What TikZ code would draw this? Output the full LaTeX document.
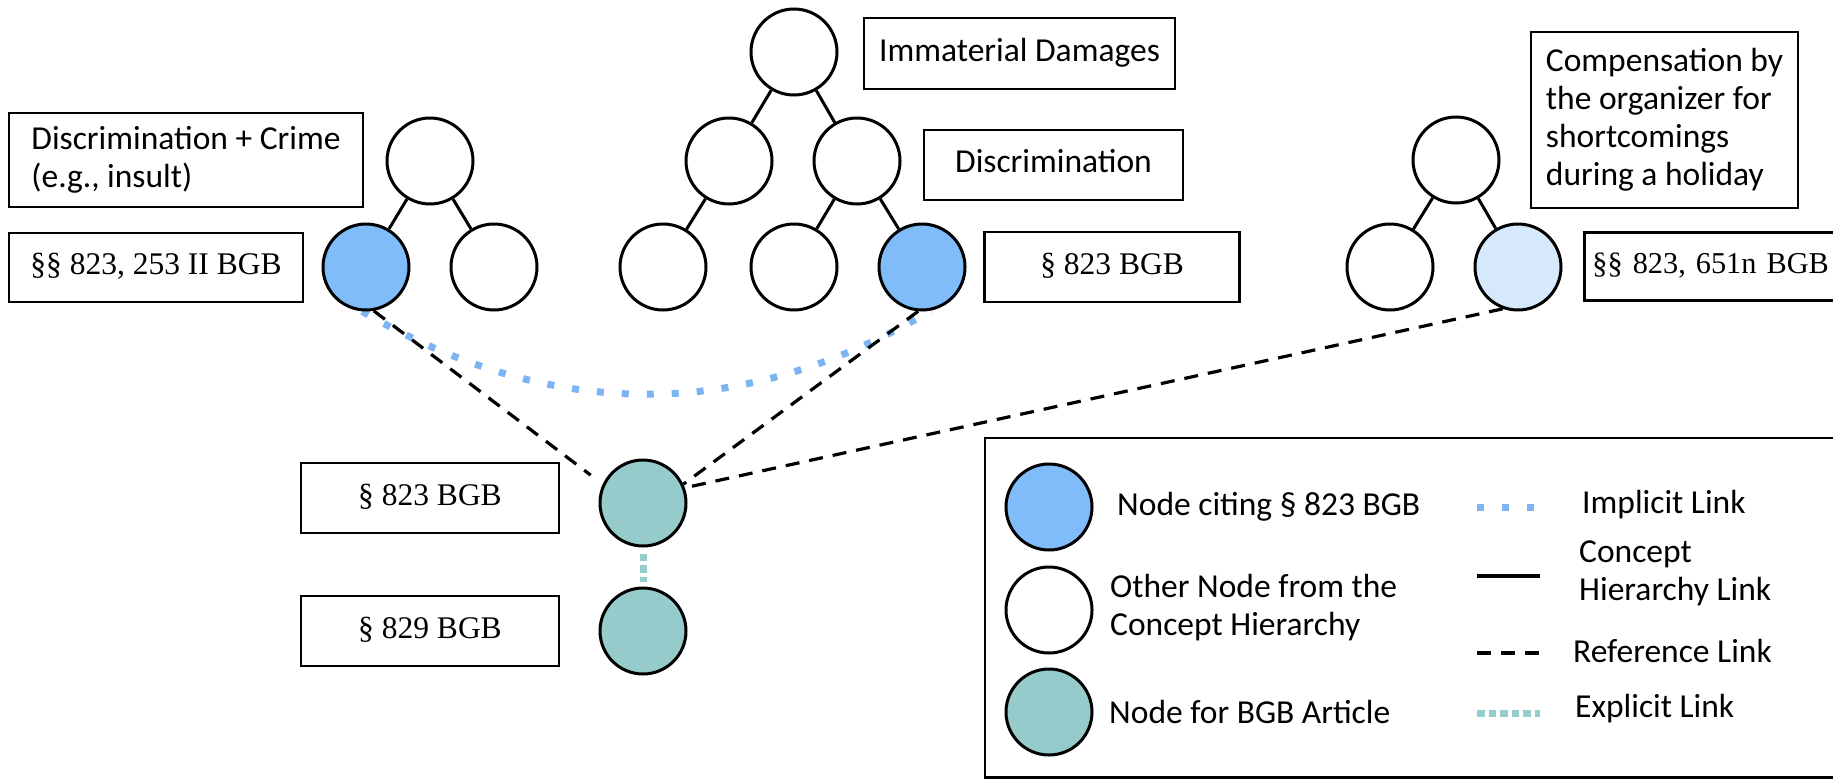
\documentclass[tikz,border=0pt]{standalone}
\usepackage{fontspec}
\setmainfont{Carlito}
\newfontfamily\serf{Liberation Serif}
\usetikzlibrary{backgrounds}
\definecolor{citeblue}{RGB}{128,187,250}
\definecolor{paleblue}{RGB}{214,232,251}
\definecolor{bgbteal}{RGB}{150,203,203}
\definecolor{impblue}{RGB}{125,180,242}
\definecolor{expteal}{RGB}{150,205,205}
\newcommand\sflab{\fontsize{33.5}{38}\selectfont}
\newcommand\serlab{\serf\fontsize{31.5}{36}\selectfont}
\newcommand\serlabsmall{\serf\fontsize{30.3}{36}\selectfont}
\tikzset{
  cnode/.style={circle, draw, line width=3pt, minimum size=86pt, inner sep=0pt, fill=white},
  citenode/.style={cnode, fill=citeblue},
  palenode/.style={cnode, fill=paleblue},
  artnode/.style={cnode, fill=bgbteal},
  lblbox/.style={draw, line width=2.8pt, rectangle, inner sep=0pt},
  sfbox/.style={lblbox, font=\sflab},
  serbox/.style={lblbox, font=\serlab},
  legtext/.style={anchor=base west, inner sep=0pt, font=\sflab},
  treelink/.style={line width=3pt},
  reflink/.style={line width=3.2pt, dash pattern=on 14pt off 10pt},
  implink/.style={line width=7pt, impblue, dash pattern=on 7pt off 18pt},
  explink/.style={line width=7pt, expteal, dash pattern=on 7.5pt off 4pt},
}
\begin{document}
\begin{tikzpicture}[x=1pt,y=-1pt]
\useasboundingbox (0,0) rectangle (1833,779);

% label boxes
\node[sfbox, minimum width=354pt, minimum height=94pt, align=left] (lbDC) at (186,160) {Discrimination + Crime\\(e.g., insult)};
\node[serbox, minimum width=294pt, minimum height=69pt] (lbS253) at (156,267.5) {\strut§§ 823, 253 II BGB};
\node[sfbox, minimum width=311pt, minimum height=71pt] (lbIM) at (1019.5,53.5) {\strut Immaterial Damages};
\node[sfbox, minimum width=259pt, minimum height=70pt] (lbDI) at (1053.5,165) {\strut Discrimination};
\node[serbox, minimum width=255pt, minimum height=70pt] (lbS823r) at (1112,267) {\strut§ 823 BGB};
\node[sfbox, minimum width=267pt, minimum height=176pt, align=left] (lbCO) at (1664.5,120) {Compensation by\\the organizer for\\shortcomings\\during a holiday};
\node[serbox, font=\serlabsmall, anchor=west, minimum height=68pt, text width=250pt, inner xsep=8pt, align=left] (lbS651) at (1583,266.5) {\strut§§ 823, 651n BGB};
\node[serbox, minimum width=258pt, minimum height=70pt] (lbS823) at (430,498) {\strut§ 823 BGB};
\node[serbox, minimum width=258pt, minimum height=70pt] (lbS829) at (430,631) {\strut§ 829 BGB};

% left tree
\node[cnode] (T1) at (430,161) {};
\node[citenode] (B1) at (366,267) {};
\node[cnode] (B2) at (494,267) {};
% middle tree
\node[cnode] (M0) at (794,52) {};
\node[cnode] (M1) at (729,161) {};
\node[cnode] (M2) at (857,161) {};
\node[cnode] (M3) at (663,267) {};
\node[cnode] (M4) at (794,267) {};
\node[citenode] (M5) at (922,267) {};
% right tree
\node[cnode] (R0) at (1456,160) {};
\node[cnode] (R1) at (1390,267) {};
\node[palenode] (R2) at (1518,267) {};
% BGB article nodes
\node[artnode] (A1) at (643,503) {};
\node[artnode] (A2) at (643,631) {};

\begin{pgfonlayer}{background}
\draw[treelink] (T1) -- (B1);
\draw[treelink] (T1) -- (B2);
\draw[treelink] (M0) -- (M1);
\draw[treelink] (M0) -- (M2);
\draw[treelink] (M1) -- (M3);
\draw[treelink] (M2) -- (M4);
\draw[treelink] (M2) -- (M5);
\draw[treelink] (R0) -- (R1);
\draw[treelink] (R0) -- (R2);
\draw[implink] (B1.-95) .. controls (552,422) and (742,422) .. (M5.-78);
\draw[reflink, shorten >=15pt] (B1.-80) -- (A1.155);
\draw[reflink] (M5.-95) -- (A1.25);
\draw[reflink] (R2.-110) -- (A1.20);
\draw[explink, shorten <=6pt, shorten >=5pt] (A1) -- (A2);
\end{pgfonlayer}

% legend
\draw[line width=2.8pt] (985,438) rectangle (1860,777.5);
\node[citenode] (L1) at (1049,507) {};
\node[cnode] (L2) at (1049,610) {};
\node[artnode] (L3) at (1049,712) {};
\node[legtext] (t1) at (1117,515) {Node citing § 823 BGB};
\node[legtext] (t2a) at (1110,597) {Other Node from the};
\node[legtext] (t2b) at (1110,635) {Concept Hierarchy};
\node[legtext] (t3) at (1109,723) {Node for BGB Article};

\coordinate (s1a) at (1477,507); \coordinate (s1b) at (1540,507);
\coordinate (s2a) at (1477,576); \coordinate (s2b) at (1540,576);
\coordinate (s3a) at (1477,653); \coordinate (s3b) at (1540,653);
\coordinate (s4a) at (1477,713); \coordinate (s4b) at (1540,713);
\draw[implink] (s1a) -- (s1b);
\draw[treelink, line width=4pt] (s2a) -- (s2b);
\draw[reflink] (s3a) -- (s3b);
\draw[explink] (s4a) -- (s4b);
\node[legtext] (u1) at (1582,513) {Implicit Link};
\node[legtext] (u2a) at (1579,562) {Concept};
\node[legtext] (u2b) at (1579,600) {Hierarchy Link};
\node[legtext] (u3) at (1573,662) {Reference Link};
\node[legtext] (u4) at (1575,717) {Explicit Link};
\end{tikzpicture}
\end{document}
